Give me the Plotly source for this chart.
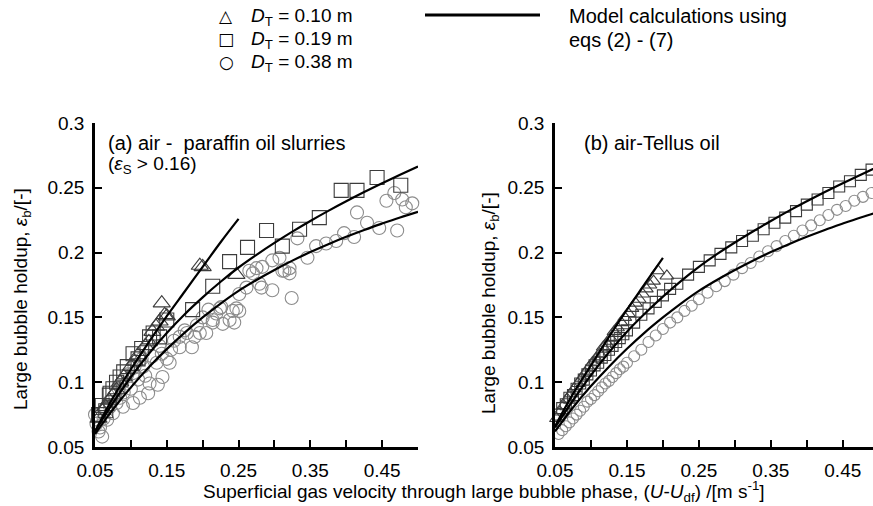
import plotly.graph_objects as go

FONT = "Liberation Sans, Arial, Helvetica, sans-serif"
FS = 19

# ---------------- data: panel (a) air - paraffin oil slurries ----------------
tri_a_x = [0.055, 0.060, 0.065, 0.070, 0.075, 0.080, 0.085, 0.090, 0.100, 0.105, 0.110,
           0.120, 0.125, 0.130, 0.135, 0.140, 0.143, 0.147, 0.150, 0.196, 0.200, 0.247]
tri_a_y = [0.072, 0.078, 0.081, 0.086, 0.090, 0.094, 0.100, 0.104, 0.112, 0.116, 0.121,
           0.128, 0.131, 0.139, 0.143, 0.147, 0.161, 0.152, 0.151, 0.190, 0.189, 0.183]

sq_a_x = [0.055, 0.060, 0.065, 0.070, 0.071, 0.075, 0.080, 0.085, 0.090, 0.095, 0.103,
          0.110, 0.115, 0.126, 0.131, 0.140, 0.150, 0.186, 0.214, 0.2375, 0.2625, 0.289,
          0.311, 0.335, 0.3625, 0.393, 0.415, 0.443, 0.476]
sq_a_y = [0.075, 0.082, 0.078, 0.090, 0.0915, 0.095, 0.100, 0.104, 0.108, 0.112, 0.122,
          0.118, 0.126, 0.135, 0.138, 0.135, 0.148, 0.156, 0.174, 0.193, 0.204, 0.217,
          0.205, 0.218, 0.227, 0.248, 0.248, 0.258, 0.252]

circ_a_x = [0.050, 0.052, 0.055, 0.057, 0.060, 0.062, 0.065, 0.067, 0.070, 0.071, 0.075,
            0.078, 0.080, 0.083, 0.085, 0.088, 0.089, 0.090, 0.094, 0.095, 0.100, 0.103,
            0.103, 0.105, 0.110, 0.1125, 0.115, 0.117, 0.120, 0.124, 0.126, 0.130, 0.136,
            0.1375, 0.140, 0.143, 0.144, 0.150, 0.154, 0.156, 0.160, 0.168, 0.168, 0.175,
            0.178, 0.185, 0.189, 0.192, 0.196, 0.200, 0.205, 0.208, 0.214, 0.214, 0.219,
            0.224, 0.226, 0.228, 0.2375, 0.242, 0.244, 0.247, 0.251, 0.251, 0.261, 0.265,
            0.270, 0.275, 0.279, 0.282, 0.283, 0.297, 0.297, 0.307, 0.311, 0.314, 0.321,
            0.321, 0.324, 0.332, 0.346, 0.358, 0.372, 0.386, 0.397, 0.411, 0.415, 0.429,
            0.446, 0.456, 0.467, 0.471, 0.478, 0.483, 0.492]
circ_a_y = [0.075, 0.068, 0.062, 0.065, 0.058, 0.072, 0.080, 0.071, 0.085, 0.081, 0.076,
            0.090, 0.084, 0.095, 0.088, 0.100, 0.081, 0.092, 0.099, 0.106, 0.095, 0.084,
            0.107, 0.112, 0.102, 0.088, 0.118, 0.112, 0.105, 0.0915, 0.099, 0.120, 0.115,
            0.098, 0.128, 0.122, 0.104, 0.118, 0.115, 0.125, 0.132, 0.127, 0.135, 0.140,
            0.138, 0.127, 0.135, 0.144, 0.138, 0.150, 0.138, 0.156, 0.146, 0.148, 0.153,
            0.157, 0.158, 0.145, 0.148, 0.155, 0.146, 0.157, 0.168, 0.155, 0.173, 0.186,
            0.184, 0.188, 0.176, 0.173, 0.189, 0.171, 0.194, 0.196, 0.186, 0.186, 0.184,
            0.188, 0.165, 0.211, 0.196, 0.205, 0.207, 0.209, 0.215, 0.212, 0.231, 0.223,
            0.219, 0.240, 0.246, 0.217, 0.241, 0.235, 0.238]

model_a10_x = [0.05, 0.075, 0.1, 0.125, 0.15, 0.175, 0.2, 0.225, 0.25]
model_a10_y = [0.062, 0.088, 0.110, 0.131, 0.151, 0.170, 0.189, 0.208, 0.226]
model_x = [0.05, 0.075, 0.1, 0.125, 0.15, 0.175, 0.2, 0.225, 0.25, 0.275,
           0.3, 0.325, 0.35, 0.375, 0.4, 0.425, 0.45, 0.475, 0.5]
model_a19_y = [0.062, 0.084, 0.104, 0.122, 0.138, 0.1525, 0.1655, 0.1775, 0.1885, 0.1983,
               0.2075, 0.2162, 0.2244, 0.2322, 0.2396, 0.2467, 0.2535, 0.2601, 0.2665]
model_a38_y = [0.060, 0.079, 0.096, 0.1115, 0.1255, 0.1383, 0.150, 0.1607, 0.1705, 0.1789,
               0.1866, 0.1938, 0.2004, 0.2065, 0.2122, 0.2175, 0.2224, 0.2271, 0.2315]

# ---------------- data: panel (b) air - Tellus oil ----------------
tri_b_x = [0.052, 0.057, 0.062, 0.067, 0.072, 0.077, 0.082, 0.087, 0.092, 0.097, 0.102,
           0.107, 0.112, 0.117, 0.122, 0.127, 0.132, 0.137, 0.142, 0.147, 0.152, 0.157,
           0.162, 0.167, 0.172, 0.177, 0.182, 0.187, 0.193, 0.2055]
tri_b_y = [0.072, 0.077, 0.082, 0.087, 0.091, 0.095, 0.099, 0.103, 0.107, 0.111, 0.115,
           0.118, 0.122, 0.127, 0.130, 0.134, 0.139, 0.142, 0.146, 0.150, 0.153, 0.157,
           0.161, 0.164, 0.168, 0.172, 0.175, 0.178, 0.186, 0.182]

sq_b_x = [0.055, 0.060, 0.065, 0.070, 0.075, 0.080, 0.085, 0.090, 0.095, 0.100, 0.105,
          0.110, 0.115, 0.120, 0.125, 0.130, 0.135, 0.140, 0.145, 0.150, 0.160, 0.170,
          0.180, 0.190, 0.200, 0.210, 0.220, 0.235, 0.250, 0.265, 0.280, 0.295, 0.310,
          0.325, 0.340, 0.355, 0.370, 0.385, 0.400, 0.415, 0.430, 0.445, 0.460, 0.475, 0.490]
sq_b_y = [0.075, 0.080, 0.083, 0.088, 0.090, 0.095, 0.099, 0.102, 0.106, 0.109, 0.113,
          0.115, 0.119, 0.121, 0.125, 0.128, 0.131, 0.134, 0.137, 0.140, 0.146, 0.152,
          0.157, 0.162, 0.167, 0.172, 0.176, 0.183, 0.189, 0.194, 0.199, 0.204, 0.209,
          0.213, 0.218, 0.223, 0.227, 0.232, 0.237, 0.241, 0.246, 0.251, 0.255, 0.260, 0.264]

circ_b_x = [0.055, 0.060, 0.065, 0.070, 0.075, 0.080, 0.085, 0.090, 0.095, 0.100, 0.105,
            0.110, 0.115, 0.120, 0.125, 0.130, 0.135, 0.140, 0.145, 0.150, 0.160, 0.170,
            0.180, 0.190, 0.200, 0.210, 0.220, 0.230, 0.240, 0.250, 0.262, 0.274, 0.286,
            0.298, 0.310, 0.322, 0.334, 0.346, 0.358, 0.370, 0.382, 0.394, 0.406, 0.418,
            0.430, 0.442, 0.454, 0.466, 0.478, 0.490]
circ_b_y = [0.060, 0.063, 0.066, 0.069, 0.072, 0.075, 0.078, 0.081, 0.085, 0.087, 0.090,
            0.093, 0.096, 0.099, 0.101, 0.104, 0.107, 0.110, 0.112, 0.115, 0.120, 0.125,
            0.131, 0.136, 0.141, 0.146, 0.150, 0.155, 0.159, 0.164, 0.169, 0.174, 0.178,
            0.183, 0.188, 0.192, 0.197, 0.201, 0.205, 0.209, 0.213, 0.217, 0.221, 0.225,
            0.229, 0.233, 0.236, 0.240, 0.243, 0.246]

model_b10_x = [0.05, 0.075, 0.1, 0.125, 0.15, 0.175, 0.2]
model_b10_y = [0.066, 0.091, 0.113, 0.135, 0.156, 0.176, 0.196]
model_b19_y = [0.065, 0.086, 0.1055, 0.123, 0.139, 0.153, 0.166, 0.178, 0.189, 0.1988,
               0.2078, 0.2163, 0.2244, 0.2322, 0.2396, 0.2467, 0.2535, 0.2601, 0.2665]
model_b38_y = [0.062, 0.0805, 0.097, 0.112, 0.1258, 0.1385, 0.150, 0.1607, 0.1705, 0.1789,
               0.1866, 0.1938, 0.2004, 0.2065, 0.2122, 0.2175, 0.2224, 0.2271, 0.2315]

x_tickvals = [0.05, 0.15, 0.25, 0.35, 0.45]
x_ticktext = ["0.05", "0.15", "0.25", "0.35", "0.45"]
x_minorvals = [0.10, 0.20, 0.30, 0.40, 0.50]
y_tickvals = [0.05, 0.10, 0.15, 0.20, 0.25, 0.30]
y_ticktext = ["0.05", "0.1", "0.15", "0.2", "0.25", "0.3"]

# ---------------- figure ----------------
fig = go.Figure()

def markers(x, y, symbol, size, color, xa, ya):
    fig.add_trace(go.Scatter(
        x=x, y=y, mode="markers", xaxis=xa, yaxis=ya, cliponaxis=False,
        marker=dict(symbol=symbol, size=size, color=color,
                    line=dict(color=color, width=1.1)),
        showlegend=False, hoverinfo="skip"))

def model(x, y, xa, ya):
    fig.add_trace(go.Scatter(
        x=x, y=y, mode="lines", xaxis=xa, yaxis=ya,
        line=dict(color="black", width=2.2, shape="spline", smoothing=1.0),
        showlegend=False, hoverinfo="skip"))

CIRC_C = "#8c8c8c"
SQ_C = "#3c3c3c"
TRI_C = "#3c3c3c"

# panel a
markers(circ_a_x, circ_a_y, "circle-open", 13, CIRC_C, "x", "y")
markers(sq_a_x, sq_a_y, "square-open", 14, SQ_C, "x", "y")
markers(tri_a_x, tri_a_y, "triangle-up-open", 15, TRI_C, "x", "y")
model(model_a10_x, model_a10_y, "x", "y")
model(model_x, model_a19_y, "x", "y")
model(model_x, model_a38_y, "x", "y")

# panel b
markers(circ_b_x, circ_b_y, "circle-open", 11, CIRC_C, "x2", "y2")
markers(sq_b_x, sq_b_y, "square-open", 11, SQ_C, "x2", "y2")
markers(tri_b_x, tri_b_y, "triangle-up-open", 12, TRI_C, "x2", "y2")
model(model_b10_x, model_b10_y, "x2", "y2")
model(model_x, model_b19_y, "x2", "y2")
model(model_x, model_b38_y, "x2", "y2")

W, H = 873, 506
def px(x):
    return x / W
def py(y):
    return 1 - y / H

axis_common = dict(showgrid=False, zeroline=False, showline=True, linecolor="black",
                   linewidth=2.5, ticks="inside", ticklen=7, tickwidth=2, tickcolor="black",
                   automargin=False,
                   tickfont=dict(family=FONT, size=FS, color="black"), ticklabelstandoff=4)
x_minor = dict(tickvals=x_minorvals, ticks="inside", ticklen=7, tickwidth=2,
               tickcolor="black", showgrid=False)

fig.update_layout(
    width=W, height=H, margin=dict(l=0, r=0, t=0, b=0, autoexpand=False),
    paper_bgcolor="white", plot_bgcolor="white",
    font=dict(family=FONT, size=FS, color="black"),
    xaxis=dict(domain=[px(95), px(418)], range=[0.05, 0.5], anchor="y",
               tickvals=x_tickvals, ticktext=x_ticktext, minor=x_minor, **axis_common),
    yaxis=dict(domain=[py(447), py(123)], range=[0.05, 0.3], anchor="x",
               tickvals=y_tickvals, ticktext=y_ticktext, **axis_common),
    xaxis2=dict(domain=[px(555), 1.0], range=[0.05, 0.492], anchor="y2",
                tickvals=x_tickvals, ticktext=x_ticktext, minor=x_minor, **axis_common),
    yaxis2=dict(domain=[py(447), py(123)], range=[0.05, 0.3], anchor="x2",
                tickvals=y_tickvals, ticktext=y_ticktext, **axis_common),
)

def ann(x, y, text, xanchor="left", size=FS, angle=0, fam=FONT):
    fig.add_annotation(x=px(x), y=py(y), xref="paper", yref="paper", text=text,
                       showarrow=False, xanchor=xanchor, yanchor="middle",
                       textangle=angle, font=dict(family=fam, size=size, color="black"))

# legend block
SYM_FONT = "DejaVu Sans, sans-serif"
ann(226, 16, "\u25B3", "center", 17, fam=SYM_FONT)
ann(226, 39, "\u25A1", "center", 17, fam=SYM_FONT)
ann(226, 62, "\u25CB", "center", 17, fam=SYM_FONT)
ann(249, 17, "<i>D</i><sub>T</sub> = 0.10 m")
ann(249, 40, "<i>D</i><sub>T</sub> = 0.19 m")
ann(249, 63, "<i>D</i><sub>T</sub> = 0.38 m")
fig.add_shape(type="line", xref="paper", yref="paper", x0=px(425), x1=px(540),
              y0=py(15), y1=py(15), line=dict(color="black", width=3))
ann(567, 16, "Model calculations using", size=20)
ann(567, 40, "eqs (2) - (7)", size=20)

# panel labels
ann(106, 143, "(a) air -\u00a0 paraffin oil slurries", size=20)
ann(106, 165, "(<i>\u03b5</i><sub>S</sub> > 0.16)")
ann(582, 143, "(b) air-Tellus oil", size=20)

# axis titles
ytitle = "Large bubble holdup, <i>\u03b5</i><sub>b</sub>/[-]"
ann(22, 299, ytitle, "center", angle=-90)
ann(490, 303, ytitle, "center", angle=-90)
ann(484, 491, "Superficial gas velocity through large bubble phase, (<i>U</i>-<i>U</i><sub>df</sub>) /[m s<sup>-1</sup>]", "center")

fig.write_html("out.html")
